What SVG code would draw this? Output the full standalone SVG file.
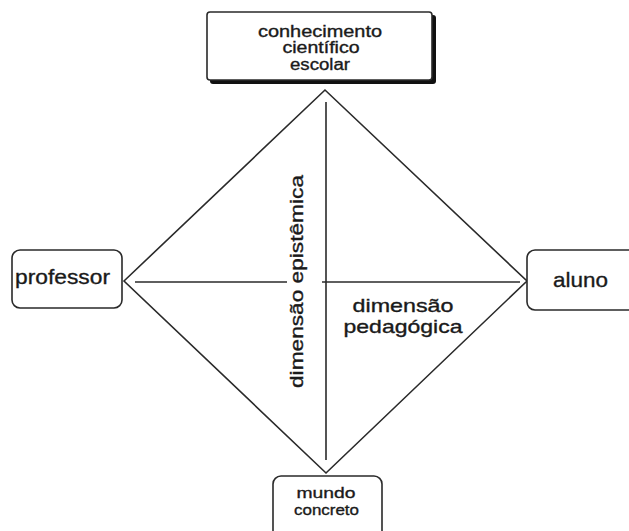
<svg xmlns="http://www.w3.org/2000/svg" width="629" height="531" viewBox="0 0 629 531">
<style>
.box{fill:#fff;stroke:#2a2a2a;stroke-width:1.6}
.ln{stroke:#2a2a2a;stroke-width:1.6;fill:none}
text{font-family:"Liberation Sans",Arial,sans-serif;fill:#1a1a1a;stroke:#1a1a1a;stroke-width:0.35;text-anchor:middle}
.t16{font-size:16px}
.t21{font-size:21px}
.t15{font-size:15.5px}
.t19{font-size:19px}
</style>
<rect width="629" height="531" fill="#fff"/>
<g id="connectors">
<path class="ln" d="M124,281 L325,90 L527,281 L326,473 Z"/>
<line class="ln" x1="326" y1="102" x2="326" y2="460"/>
<line class="ln" x1="135" y1="282" x2="287" y2="282"/>
<line class="ln" x1="322" y1="282" x2="520" y2="282"/>
</g>
<g id="node-conhecimento">
<rect x="210" y="15" width="226" height="69" rx="3" fill="#111"/>
<rect class="box" x="207" y="12" width="225" height="68" rx="3"/>
<text class="t16" x="320" y="37" textLength="124" lengthAdjust="spacingAndGlyphs">conhecimento</text>
<text class="t16" x="321" y="53" textLength="77" lengthAdjust="spacingAndGlyphs">científico</text>
<text class="t16" x="320" y="70" textLength="60" lengthAdjust="spacingAndGlyphs">escolar</text>
</g>
<g id="node-professor">
<rect class="box" x="12" y="250" width="110" height="58" rx="8"/>
<text class="t21" x="62.5" y="284" textLength="95" lengthAdjust="spacingAndGlyphs">professor</text>
</g>
<g id="node-aluno">
<rect class="box" x="527" y="250" width="120" height="60" rx="8"/>
<text class="t21" x="580.5" y="287" textLength="55" lengthAdjust="spacingAndGlyphs">aluno</text>
</g>
<g id="node-mundo">
<rect class="box" x="273" y="476" width="109" height="70" rx="8"/>
<text class="t15" x="326" y="498" textLength="59" lengthAdjust="spacingAndGlyphs">mundo</text>
<text class="t15" x="326.5" y="515" textLength="65" lengthAdjust="spacingAndGlyphs">concreto</text>
</g>
<g id="label-epistemica">
<text class="t19" transform="translate(303,281.5) rotate(-90)" x="0" y="0" textLength="213" lengthAdjust="spacingAndGlyphs">dimensão epistêmica</text>
</g>
<g id="label-pedagogica">
<text class="t19" x="403" y="312" textLength="101" lengthAdjust="spacingAndGlyphs">dimensão</text>
<text class="t19" x="403" y="333" textLength="119" lengthAdjust="spacingAndGlyphs">pedagógica</text>
</g>
</svg>
